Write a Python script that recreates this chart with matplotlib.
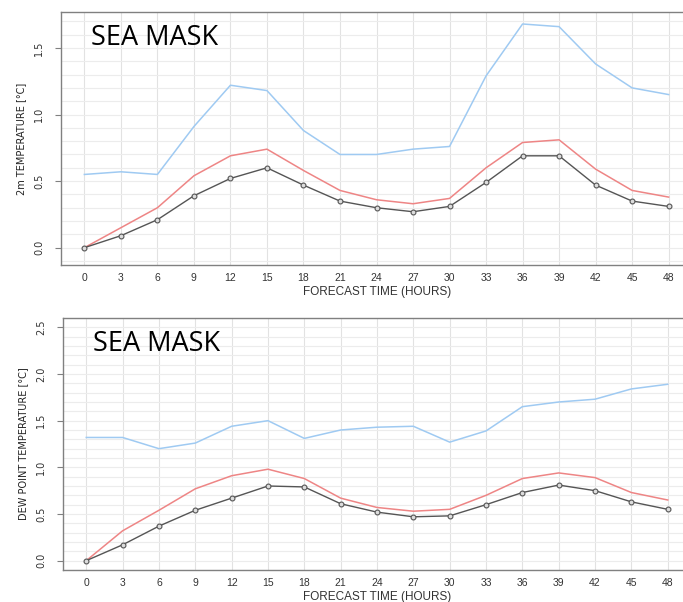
import numpy as np
import matplotlib.pyplot as plt
from matplotlib.ticker import MultipleLocator

# forecast lead times (hours)
hours = [0, 3, 6, 9, 12, 15, 18, 21, 24, 27, 30, 33, 36, 39, 42, 45, 48]

# 2m temperature, sea mask
t2m_blue = [0.55, 0.57, 0.55, 0.91, 1.22, 1.18, 0.88, 0.70, 0.70, 0.74, 0.76,
            1.29, 1.68, 1.66, 1.38, 1.20, 1.15]
t2m_red = [0.00, 0.15, 0.30, 0.54, 0.69, 0.74, 0.58, 0.43, 0.36, 0.33, 0.37,
           0.60, 0.79, 0.81, 0.59, 0.43, 0.38]
t2m_black = [0.00, 0.09, 0.21, 0.39, 0.52, 0.60, 0.47, 0.35, 0.30, 0.27, 0.31,
             0.49, 0.69, 0.69, 0.47, 0.35, 0.31]

# dew point temperature, sea mask
td_blue = [1.32, 1.32, 1.20, 1.26, 1.44, 1.50, 1.31, 1.40, 1.43, 1.44, 1.27,
           1.39, 1.65, 1.70, 1.73, 1.84, 1.89]
td_red = [0.00, 0.32, 0.54, 0.77, 0.91, 0.98, 0.88, 0.67, 0.57, 0.53, 0.55,
          0.70, 0.88, 0.94, 0.89, 0.73, 0.65]
td_black = [0.00, 0.17, 0.37, 0.54, 0.67, 0.80, 0.79, 0.61, 0.52, 0.47, 0.48,
            0.60, 0.73, 0.81, 0.75, 0.63, 0.55]

BLUE = '#9fcaf2'
RED = '#ee8585'
BLACK = '#555555'
FRAME = '#808080'


def draw_panel(ax, blue, red, black, ylabel, ylim, yticks, label_x, label_y):
    ax.set_xlim(-1.92, 49.92)
    ax.set_ylim(*ylim)
    ax.set_xticks(hours)
    ax.set_yticks(yticks)
    ax.yaxis.set_minor_locator(MultipleLocator(0.1))
    ax.grid(True, axis='x', color='#e2e2e2', lw=0.8)
    ax.grid(True, axis='y', which='both', color='#ececec', lw=0.8)
    ax.set_axisbelow(True)

    ax.plot(hours, blue, color=BLUE, lw=1.1)
    ax.plot(hours, red, color=RED, lw=1.1)
    ax.plot(hours, black, color=BLACK, lw=1.0, marker='o', ms=3.5,
            mfc='#dddddd', mec=BLACK, mew=0.8)

    for side in ['left', 'bottom', 'top']:
        ax.spines[side].set_color(FRAME)
        ax.spines[side].set_linewidth(1.0)
    ax.spines['right'].set_visible(False)

    ax.tick_params(axis='y', which='major', length=4, color=FRAME,
                   labelsize=7, labelcolor='#333333', pad=8)
    ax.tick_params(axis='y', which='minor', length=0)
    ax.tick_params(axis='x', length=0, labelsize=7.5, labelcolor='#333333',
                   pad=6)
    for lab in ax.get_yticklabels():
        lab.set_rotation(90)
        lab.set_va('center')
        lab.set_family('Liberation Sans Narrow')
    for lab in ax.get_xticklabels():
        lab.set_family('Liberation Sans')

    ax.set_ylabel(ylabel, fontsize=7, family='Liberation Sans Narrow',
                  color='#222222', labelpad=6)
    ax.set_xlabel('FORECAST TIME (HOURS)', fontsize=8.5,
                  family='Liberation Sans', color='#333333')
    ax.xaxis.set_label_coords(label_x, label_y)
    ax.text(0.048, 1 - 26 / 253, 'SEA MASK', transform=ax.transAxes,
            fontsize=19.5, family='Open Sans', color='black', va='center')


fig = plt.figure(figsize=(6.83, 6.02), dpi=100)

ax1 = fig.add_axes([61 / 683, (602 - 265) / 602, 631 / 683, 253 / 602])
draw_panel(ax1, t2m_blue, t2m_red, t2m_black, '2m TEMPERATURE [°C]',
           (-0.13, 1.77), [0.0, 0.5, 1.0, 1.5],
           (377 - 61) / 631, -21 / 253)

ax2 = fig.add_axes([63 / 683, (602 - 570) / 602, 628 / 683, 252 / 602])
draw_panel(ax2, td_blue, td_red, td_black, 'DEW POINT TEMPERATURE [°C]',
           (-0.10, 2.60), [0.0, 0.5, 1.0, 1.5, 2.0, 2.5],
           (377 - 63) / 628, -21 / 252)

fig.savefig('out.png', dpi=100)
